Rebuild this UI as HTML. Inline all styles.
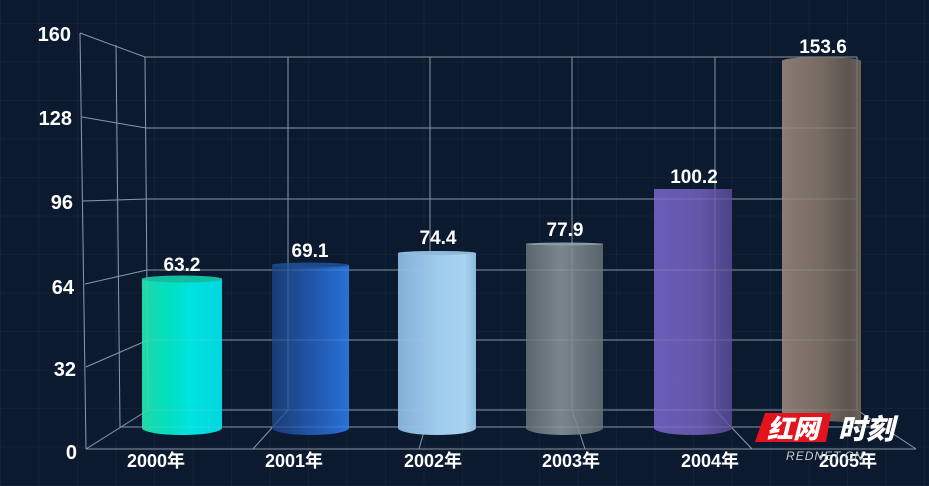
<!DOCTYPE html>
<html><head><meta charset="utf-8"><style>
html,body{margin:0;padding:0;}
body{width:929px;height:486px;overflow:hidden;background:#0b1a2e;
background-image:repeating-linear-gradient(90deg,rgba(255,255,255,0.03) 0 1px,transparent 1px 38.5px),repeating-linear-gradient(0deg,rgba(255,255,255,0.03) 0 1px,transparent 1px 38.5px);}
svg{position:absolute;left:0;top:0;}
text{font-family:"Liberation Sans","Noto Sans CJK SC",sans-serif;font-weight:bold;fill:#fff;}
</style></head><body>
<svg width="929" height="486" viewBox="0 0 929 486" xmlns="http://www.w3.org/2000/svg">
<defs>
<linearGradient id="g0" x1="0" x2="1" y1="0" y2="0"><stop offset="0" stop-color="#22d6a8"/><stop offset="0.35" stop-color="#00e0c0"/><stop offset="0.6" stop-color="#00e3e0"/><stop offset="1" stop-color="#00d6de"/></linearGradient>
<linearGradient id="g1" x1="0" x2="1" y1="0" y2="0"><stop offset="0" stop-color="#1a3c74"/><stop offset="0.5" stop-color="#1f55a8"/><stop offset="1" stop-color="#2a70d6"/></linearGradient>
<linearGradient id="g2" x1="0" x2="1" y1="0" y2="0"><stop offset="0" stop-color="#84b0d8"/><stop offset="0.5" stop-color="#9ecaec"/><stop offset="0.85" stop-color="#a8d4f0"/><stop offset="1" stop-color="#8ab8dc"/></linearGradient>
<linearGradient id="g3" x1="0" x2="1" y1="0" y2="0"><stop offset="0" stop-color="#5a656d"/><stop offset="0.45" stop-color="#7a868e"/><stop offset="1" stop-color="#59636b"/></linearGradient>
<linearGradient id="g4" x1="0" x2="1" y1="0" y2="0"><stop offset="0" stop-color="#6a5db8"/><stop offset="0.6" stop-color="#6456a8"/><stop offset="1" stop-color="#4c4388"/></linearGradient>
<linearGradient id="g5" x1="0" x2="1" y1="0" y2="0"><stop offset="0" stop-color="#8a7c73"/><stop offset="0.5" stop-color="#766a62"/><stop offset="0.85" stop-color="#5c544e"/><stop offset="1" stop-color="#6a615a"/></linearGradient>
<g id="grid" fill="none">
<!-- left wall verticals -->
<line x1="80" y1="33" x2="86" y2="449"/>
<line x1="116" y1="45" x2="120" y2="427"/>
<line x1="145" y1="57" x2="148" y2="410"/>
<!-- left wall horizontals -->
<line x1="80" y1="33" x2="145" y2="57"/>
<line x1="82" y1="117" x2="146" y2="128"/>
<line x1="83" y1="201" x2="147" y2="199"/>
<line x1="85" y1="284" x2="147" y2="270"/>
<line x1="86" y1="367" x2="148" y2="340"/>
<line x1="86" y1="449" x2="148" y2="410"/>
<!-- back wall horizontals -->
<line x1="145" y1="57" x2="857" y2="57"/>
<line x1="146" y1="128" x2="857" y2="128"/>
<line x1="147" y1="199" x2="857" y2="199"/>
<line x1="147" y1="270" x2="857" y2="270"/>
<line x1="148" y1="340" x2="857" y2="340"/>
<line x1="148" y1="410" x2="857" y2="410"/>
<!-- back wall verticals -->
<line x1="288" y1="57" x2="288" y2="410"/>
<line x1="430" y1="57" x2="430" y2="410"/>
<line x1="572" y1="57" x2="572" y2="410"/>
<line x1="715" y1="57" x2="715" y2="410"/>
<line x1="857" y1="57" x2="857" y2="410"/>
<!-- floor -->
<line x1="120" y1="427" x2="883" y2="427"/>
<line x1="86" y1="449" x2="916" y2="449"/>
<line x1="288" y1="410" x2="253" y2="449"/>
<line x1="430" y1="410" x2="419" y2="449"/>
<line x1="572" y1="410" x2="585" y2="449"/>
<line x1="715" y1="410" x2="752" y2="449"/>
<line x1="857" y1="410" x2="916" y2="449"/>
</g>
</defs>

<use href="#grid" stroke="#7d8896" stroke-width="1"/>

<!-- bars -->
<path d="M142,279 L142,428 A40,7 0 0 0 222,428 L222,279 Z" fill="url(#g0)"/>
<ellipse cx="182" cy="279" rx="40" ry="3.5" fill="#16bca0"/>

<path d="M272,265 L272,428 A38.5,7 0 0 0 349,428 L349,265 Z" fill="url(#g1)"/>
<ellipse cx="310.5" cy="265" rx="38.5" ry="2.5" fill="#1d4a8c"/>

<path d="M398,253 L398,428 A39,7 0 0 0 476,428 L476,253 Z" fill="url(#g2)"/>
<ellipse cx="437" cy="253" rx="39" ry="2" fill="#8fbadb"/>

<path d="M526,244 L526,428 A38.5,7 0 0 0 603,428 L603,244 Z" fill="url(#g3)"/>
<ellipse cx="564.5" cy="244" rx="38.5" ry="1.5" fill="#8e9aa2"/>

<path d="M654,189 L654,428 A39,7 0 0 0 732,428 L732,189 Z" fill="url(#g4)"/>

<path d="M782,61 A39.5,4 0 0 1 861,61 L861,428 A39.5,7 0 0 0 782,428 Z" fill="url(#g5)"/>

<use href="#grid" stroke="#c0c8d4" stroke-width="1" opacity="0.22"/>

<!-- value labels -->
<g font-size="19" text-anchor="middle">
<text x="182" y="271">63.2</text>
<text x="310" y="257">69.1</text>
<text x="438" y="244">74.4</text>
<text x="565" y="236">77.9</text>
<text x="694" y="183">100.2</text>
<text x="823" y="53">153.6</text>
</g>

<!-- y axis labels -->
<g font-size="20" text-anchor="end">
<text x="71" y="41">160</text>
<text x="72" y="125">128</text>
<text x="73" y="209">96</text>
<text x="74" y="294">64</text>
<text x="76" y="376">32</text>
<text x="77" y="459">0</text>
</g>

<!-- x axis labels -->
<g font-size="18" text-anchor="middle">
<text x="156" y="467">2000年</text>
<text x="294" y="467">2001年</text>
<text x="433" y="467">2002年</text>
<text x="571" y="467">2003年</text>
<text x="710" y="467">2004年</text>
<text x="848" y="467">2005年</text>
</g>

<!-- watermark -->
<polygon points="765,413 831,413 826,442 755,442" fill="#e4141e"/>
<text x="793" y="438" font-size="26" text-anchor="middle" font-style="italic" style="font-family:'Noto Sans CJK SC',sans-serif;font-weight:900">红网</text>
<text x="866" y="439" font-size="28" text-anchor="middle" font-style="italic" style="font-family:'Noto Sans CJK SC',sans-serif;font-weight:900">时刻</text>
<text x="825" y="460" font-size="12" text-anchor="middle" font-style="italic" style="font-weight:normal;fill:#c8ccd2;letter-spacing:1px">REDNET.CN</text>
</svg>
</body></html>
